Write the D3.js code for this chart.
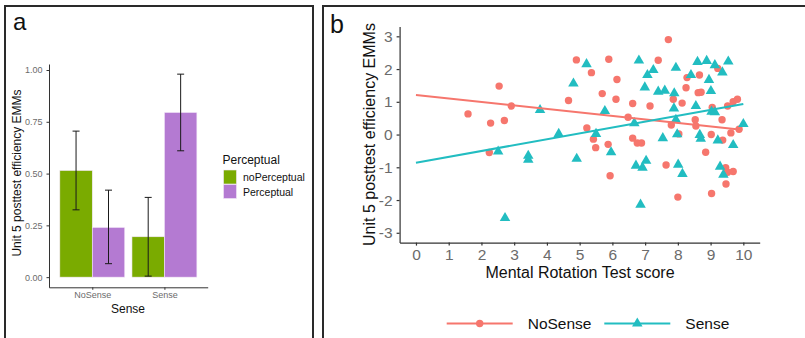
<!DOCTYPE html>
<html><head><meta charset="utf-8">
<script src="https://cdn.jsdelivr.net/npm/d3@7"></script>
<style>body{margin:0;background:#fff}svg{display:block;font-family:"Liberation Sans",Arial,sans-serif}</style>
</head><body>
<svg id="c" width="805" height="338"></svg>
<script>
// ---- Panel a data ----
const senseCats = ["NoSense", "Sense"];
const perceptualCats = ["noPerceptual", "Perceptual"];
const emmNoPerceptual = [0.515, 0.195];
const emmPerceptual = [0.240, 0.795];
const lowerNoPerceptual = [0.325, 0.005];
const upperNoPerceptual = [0.705, 0.385];
const lowerPerceptual = [0.065, 0.610];
const upperPerceptual = [0.420, 0.980];
const barTicks = [0, 0.25, 0.5, 0.75, 1.0];

// ---- Panel b data ----
const noSenseX = [1.59,2.28,2.54,2.70,2.91,2.24,4.90,4.66,5.36,5.22,5.42,5.49,5.89,5.69,6.14,6.11,5.87,5.93,6.62,6.48,6.62,6.76,6.89,7.15,7.40,7.71,7.64,7.80,7.86,8.13,8.03,8.00,8.28,8.25,8.53,8.55,8.62,8.71,8.66,8.85,9.02,9.05,9.03,9.22,9.35,9.37,9.46,9.47,9.52,9.69,9.52,9.62,9.87,9.82,9.69];
const noSenseY = [0.63,0.35,1.48,0.43,0.87,-0.55,2.28,1.04,1.89,0.20,-0.14,-0.40,2.30,1.25,1.68,1.08,-0.30,-1.26,0.95,0.53,-0.11,-0.26,-0.26,0.87,2.27,2.90,-0.93,0.29,1.08,0.96,0.02,-1.91,1.74,1.43,0.45,0.26,1.28,1.29,1.82,-0.54,0.00,0.83,-1.80,2.02,0.45,-0.17,-1.01,-1.51,-1.15,-1.13,0.87,0.05,0.16,1.08,1.00];
const senseX = [2.51,2.72,3.43,3.43,3.79,4.36,4.81,4.91,5.21,5.50,5.77,5.96,6.67,6.72,6.81,6.92,7.03,6.86,6.99,7.07,7.25,7.40,7.60,7.54,7.89,7.88,7.94,7.94,7.98,8.01,8.14,8.40,8.55,8.60,8.67,8.70,8.88,8.95,9.01,9.03,9.13,9.13,9.22,9.29,9.36,9.39,9.54,9.69,10.0];
const senseY = [-0.52,-2.55,-0.65,-0.77,0.75,0.02,1.56,-0.74,2.15,0.02,0.72,-0.54,0.35,-0.95,2.26,-1.01,-0.80,-2.14,1.44,1.82,1.97,1.31,1.34,-0.11,1.26,0.80,2.04,0.45,0.01,-0.92,-1.20,1.82,0.87,2.22,-0.01,-0.13,2.25,1.67,1.33,0.70,0.68,2.12,-0.18,-0.98,1.90,-1.23,2.23,-0.32,0.32];
const noSenseFitX = [0, 9.80];
const noSenseFitY = [1.21, 0.16];
const senseFitX = [0, 10.0];
const senseFitY = [-0.86, 0.93];
const scatterXTicks = [0,1,2,3,4,5,6,7,8,9,10];
const scatterYTicks = [-3,-2,-1,0,1,2,3];
const seriesNames = ["NoSense", "Sense"];

const svg = d3.select("#c");
const axisCol = "#333333", tickTextCol = "#6b6b6b";
const green = "#7aab00", purple = "#b47ad2", red = "#f6766d", teal = "#22bdc1";

// Panel borders
svg.append("rect").attr("x",5).attr("y",6).attr("width",308).attr("height",340)
  .attr("fill","none").attr("stroke","#2a2a2a").attr("stroke-width",2);
svg.append("rect").attr("x",323).attr("y",6).attr("width",500).attr("height",340)
  .attr("fill","none").attr("stroke","#2a2a2a").attr("stroke-width",2);
svg.append("text").attr("x",13).attr("y",30).attr("font-size",24).attr("fill","#111").text("a");
svg.append("text").attr("x",330).attr("y",33).attr("font-size",25).attr("fill","#111").text("b");

// ---- Panel a ----
const xa = d3.scaleLinear().domain([0.4, 2.6]).range([49, 207.7]);
const ya = d3.scaleLinear().domain([-0.049, 1.029]).range([287.3, 64]);
const gA = svg.append("g");
const bw = (xa(1.45) - xa(1));
const barData = [];
senseCats.forEach((s,i)=>{
  barData.push({s, i, p:0, v:emmNoPerceptual[i], lo:lowerNoPerceptual[i], hi:upperNoPerceptual[i]});
  barData.push({s, i, p:1, v:emmPerceptual[i], lo:lowerPerceptual[i], hi:upperPerceptual[i]});
});
const barX = d => xa(d.i+1) + (d.p===0 ? -bw : 0);
gA.selectAll("rect.bar").data(barData).enter().append("rect")
  .attr("x", barX).attr("width", bw)
  .attr("y", d=>ya(d.v)).attr("height", d=>ya(0)-ya(d.v))
  .attr("fill", d=>d.p===0?green:purple).attr("stroke","#f4e8f8").attr("stroke-width",0.6);
const eb = gA.selectAll("g.eb").data(barData).enter().append("g").attr("stroke","#1a1a1a").attr("stroke-width",1);
eb.append("line").attr("x1",d=>barX(d)+bw/2).attr("x2",d=>barX(d)+bw/2).attr("y1",d=>ya(d.lo)).attr("y2",d=>ya(d.hi));
eb.append("line").attr("x1",d=>barX(d)+bw/2-3.5).attr("x2",d=>barX(d)+bw/2+3.5).attr("y1",d=>ya(d.lo)).attr("y2",d=>ya(d.lo));
eb.append("line").attr("x1",d=>barX(d)+bw/2-3.5).attr("x2",d=>barX(d)+bw/2+3.5).attr("y1",d=>ya(d.hi)).attr("y2",d=>ya(d.hi));

const yAxA = gA.append("g").attr("transform","translate(49,0)")
  .call(d3.axisLeft(ya).tickValues(barTicks).tickFormat(d3.format(".2f")).tickSize(2.5).tickSizeOuter(0));
yAxA.selectAll("text").attr("font-size",9).attr("fill",tickTextCol).attr("dx",-1);
const xAxA = gA.append("g").attr("transform","translate(0,287.3)")
  .call(d3.axisBottom(xa).tickValues([1,2]).tickFormat((d,i)=>senseCats[i]).tickSize(2.5).tickSizeOuter(0));
xAxA.selectAll("text").attr("font-size",9).attr("fill",tickTextCol).attr("dy","0.6em");
[yAxA, xAxA].forEach(a=>{a.select(".domain").attr("stroke",axisCol).attr("stroke-width",1); a.selectAll(".tick line").attr("stroke",axisCol); a.attr("font-family",null);});
gA.append("text").attr("x",128).attr("y",313).attr("text-anchor","middle").attr("font-size",12).attr("fill","#111").text("Sense");
gA.append("text").attr("transform","translate(21,173) rotate(-90)").attr("text-anchor","middle").attr("font-size",12).attr("fill","#111").text("Unit 5 posttest efficiency EMMs");
// legend a
gA.append("text").attr("x",222.5).attr("y",163.5).attr("font-size",12).attr("fill","#111").text("Perceptual");
perceptualCats.forEach((p,i)=>{
  gA.append("rect").attr("x",223.5).attr("y",170+i*14.5).attr("width",13).attr("height",14)
    .attr("fill", i===0?green:purple).attr("stroke","#f4e8f8").attr("stroke-width",0.6);
  gA.append("text").attr("x",243).attr("y",181+i*14.5).attr("font-size",10.5).attr("fill","#111").text(p);
});

// ---- Panel b ----
const xb = d3.scaleLinear().domain([-0.5, 10.5]).range([399.6, 759.7]);
const yb = d3.scaleLinear().domain([-3.3, 3.3]).range([242.6, 26.5]);
const gB = svg.append("g");
const xAxB = gB.append("g").attr("transform","translate(0,242.6)")
  .call(d3.axisBottom(xb).tickValues(scatterXTicks).tickFormat(d=>String(d)).tickSize(3).tickSizeOuter(0));
const yAxB = gB.append("g").attr("transform","translate(399.6,0)")
  .call(d3.axisLeft(yb).tickValues(scatterYTicks).tickFormat(d=>String(d)).tickSize(3).tickSizeOuter(0));
[xAxB, yAxB].forEach(a=>{a.attr("font-family",null); a.select(".domain").attr("stroke",axisCol).attr("stroke-width",1.2); a.selectAll(".tick line").attr("stroke",axisCol).attr("stroke-width",1.2); a.selectAll("text").attr("font-size",15.5).attr("fill",tickTextCol);});
xAxB.selectAll("text").attr("dy","0.75em");
yAxB.selectAll("text").attr("dx",-1);
gB.append("text").attr("x",580).attr("y",278).attr("text-anchor","middle").attr("font-size",16).attr("fill","#111").text("Mental Rotation Test score");
gB.append("text").attr("transform","translate(375,134.5) rotate(-90)").attr("text-anchor","middle").attr("font-size",16).attr("fill","#111").text("Unit 5 posttest efficiency EMMs");

const tri = d3.symbol().type(d3.symbolTriangle).size(48);
const nsData = noSenseX.map((x,i)=>({x, y:noSenseY[i]}));
const sData = senseX.map((x,i)=>({x, y:senseY[i]}));
gB.selectAll("circle.ns").data(nsData).enter().append("circle")
  .attr("cx",d=>xb(d.x)).attr("cy",d=>yb(d.y)).attr("r",3.7).attr("fill",red);
gB.selectAll("path.s").data(sData).enter().append("path")
  .attr("d",tri).attr("transform",d=>`translate(${xb(d.x)},${yb(d.y)})`).attr("fill",teal);
const line = d3.line().x(d=>xb(d[0])).y(d=>yb(d[1]));
gB.append("path").attr("d", line(noSenseFitX.map((x,i)=>[x,noSenseFitY[i]]))).attr("stroke",red).attr("stroke-width",2).attr("fill","none");
gB.append("path").attr("d", line(senseFitX.map((x,i)=>[x,senseFitY[i]]))).attr("stroke",teal).attr("stroke-width",2).attr("fill","none");

// legend b
const legX = [446.7, 604.3];
seriesNames.forEach((n,i)=>{
  const c = i===0?red:teal;
  gB.append("line").attr("x1",legX[i]).attr("x2",legX[i]+66).attr("y1",323.5).attr("y2",323.5).attr("stroke",c).attr("stroke-width",2);
  if(i===0) gB.append("circle").attr("cx",legX[i]+33).attr("cy",323.5).attr("r",3.7).attr("fill",c);
  else gB.append("path").attr("d",tri).attr("transform",`translate(${legX[i]+33},323.5)`).attr("fill",c);
  gB.append("text").attr("x",legX[i]+81).attr("y",329).attr("font-size",15.5).attr("fill","#111").text(n);
});
</script>
</body></html>
